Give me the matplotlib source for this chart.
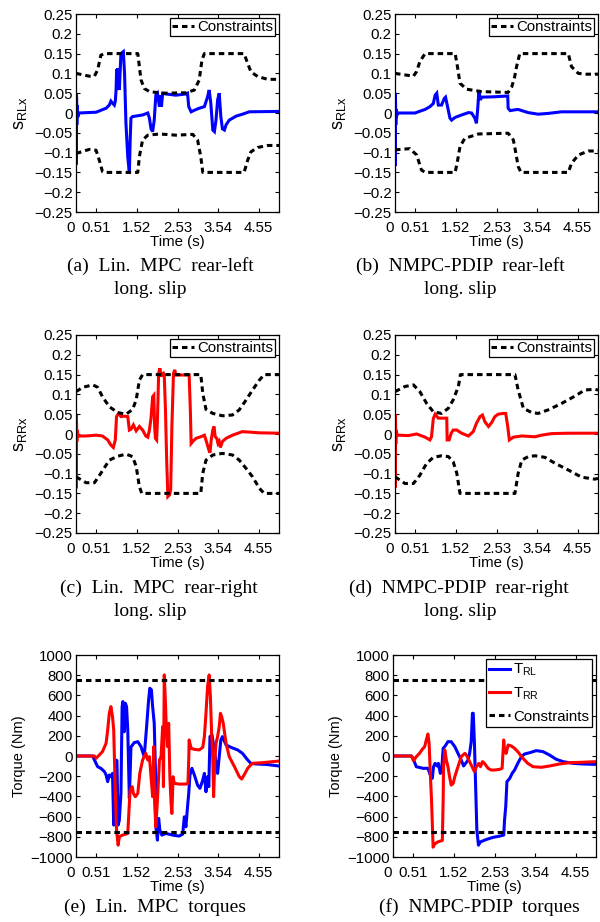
import matplotlib
matplotlib.use("Agg")
import matplotlib.pyplot as plt
import matplotlib.transforms as mtransforms
import numpy as np

plt.rcParams['font.family'] = ['Liberation Sans', 'DejaVu Sans']
plt.rcParams['mathtext.fontset'] = 'custom'
plt.rcParams['mathtext.rm'] = 'Liberation Sans'

# ---------------- data ----------------
xticks = [0, 0.51, 1.52, 2.53, 3.54, 4.55]
xticklabels = ['0', '0.51', '1.52', '2.53', '3.54', '4.55']
slip_yticks = [-0.25, -0.2, -0.15, -0.1, -0.05, 0, 0.05, 0.1, 0.15, 0.2, 0.25]
slip_yticklabels = ['\u22120.25', '\u22120.2', '\u22120.15', '\u22120.1', '\u22120.05', '0',
                    '0.05', '0.1', '0.15', '0.2', '0.25']
torque_yticks = [-1000, -800, -600, -400, -200, 0, 200, 400, 600, 800, 1000]
torque_yticklabels = ['\u22121000', '\u2212800', '\u2212600', '\u2212400', '\u2212200', '0',
                      '200', '400', '600', '800', '1000']

# (a) Lin. MPC rear-left slip
t_a = [0, 0.004, 0.008, 0.014, 0.02, 0.03, 0.045, 0.07, 0.5, 0.75, 0.83, 0.87, 0.91, 0.955, 0.98,
       1.0, 1.013, 1.025, 1.038, 1.05, 1.063, 1.08, 1.12, 1.18, 1.21, 1.245, 1.29, 1.33, 1.35,
       1.37, 1.41, 1.66, 1.79, 1.83, 1.87, 1.91, 1.95, 1.99, 2.03, 2.08, 2.10, 2.13, 2.16, 2.24,
       2.49, 2.74, 2.78, 2.81, 2.87, 2.95, 3.07, 3.20, 3.28, 3.32, 3.36, 3.41, 3.45, 3.49, 3.53,
       3.57, 3.61, 3.65, 3.70, 3.74, 3.82, 3.99, 4.15, 4.32, 5.06]
s_a = [0, 0.05, -0.13, 0.04, -0.03, 0.02, -0.01, 0.0, 0.002, 0.012, 0.02, 0.03, 0.025, 0.02, 0.03,
       0.06, 0.11, 0.07, 0.113, 0.07, 0.1, 0.058, 0.15, 0.155, 0.10, -0.026, -0.11, -0.152, -0.07,
       -0.013, -0.009, -0.005, 0.0, -0.013, -0.04, -0.047, -0.018, 0.045, 0.05, 0.016, 0.045, 0.016,
       0.05, 0.048, 0.045, 0.048, 0.05, 0.016, 0.003, 0.007, 0.012, 0.016, 0.041, 0.058, 0.025,
       -0.043, -0.047, -0.018, 0.033, 0.05, -0.009, -0.04, -0.043, -0.03, -0.018, -0.008, -0.003,
       0.003, 0.004]
ub_a_t = [0, 0.33, 0.46, 0.54, 0.62, 0.71, 1.54, 1.58, 1.62, 1.70, 1.83, 2.16, 2.74, 2.95, 3.07,
          3.14, 3.20, 4.19, 4.28, 4.36, 4.53, 4.78, 5.06]
ub_a = [0.100, 0.093, 0.093, 0.109, 0.146, 0.150, 0.150, 0.117, 0.084, 0.062, 0.054, 0.050, 0.051,
        0.058, 0.083, 0.134, 0.150, 0.150, 0.125, 0.104, 0.092, 0.085, 0.085]
lb_a_t = [0, 0.33, 0.50, 0.58, 0.66, 0.71, 1.54, 1.58, 1.66, 1.79, 2.08, 2.49, 2.91, 3.03, 3.11,
          3.16, 4.19, 4.28, 4.36, 4.53, 4.78, 5.06]
lb_a = [-0.102, -0.092, -0.094, -0.119, -0.148, -0.150, -0.150, -0.11, -0.068, -0.056, -0.053,
        -0.056, -0.054, -0.068, -0.11, -0.150, -0.150, -0.119, -0.098, -0.087, -0.082, -0.082]

# (b) NMPC-PDIP rear-left slip
t_b = [0, 0.004, 0.008, 0.013, 0.02, 0.03, 0.05, 0.083, 0.5, 0.58, 0.75, 0.87, 0.955, 1.0, 1.04,
       1.08, 1.16, 1.23, 1.26, 1.31, 1.37, 1.41, 1.50, 1.66, 1.83, 1.91, 1.99, 2.03, 2.06, 2.09,
       2.13, 2.16, 2.49, 2.81, 2.82, 2.87, 2.99, 3.07, 3.16, 3.32, 3.57, 3.82, 4.15, 5.06]
s_b = [0, 0.05, -0.134, 0.03, -0.03, 0.01, -0.005, 0, 0, 0.003, 0.009, 0.016, 0.024, 0.045, 0.05,
       0.02, 0.02, 0.037, 0.04, 0.016, -0.013, -0.018, -0.011, -0.005, 0.001, 0.0, -0.013, -0.026,
       0.008, 0.054, 0.033, 0.04, 0.041, 0.043, 0.012, 0.006, 0.008, 0.009, 0.006, 0.001, -0.003,
       -0.001, 0.003, 0.003]
ub_b_t = [0, 0.46, 0.54, 0.62, 0.75, 1.50, 1.56, 1.62, 1.79, 2.16, 2.82, 2.91, 2.98, 3.03, 3.11,
          4.32, 4.40, 4.57, 4.78, 5.06]
ub_b = [0.100, 0.093, 0.105, 0.13, 0.150, 0.150, 0.115, 0.075, 0.060, 0.054, 0.052, 0.066, 0.09,
        0.117, 0.150, 0.150, 0.117, 0.100, 0.098, 0.098]
lb_b_t = [0, 0.37, 0.54, 0.66, 0.75, 1.50, 1.56, 1.62, 1.74, 2.08, 2.82, 2.95, 3.01, 3.07, 3.14,
          4.32, 4.40, 4.57, 4.82, 5.06]
lb_b = [-0.093, -0.09, -0.106, -0.144, -0.150, -0.150, -0.12, -0.085, -0.064, -0.053, -0.051,
        -0.068, -0.10, -0.135, -0.150, -0.150, -0.127, -0.106, -0.096, -0.096]

# (c) Lin. MPC rear-right slip
t_c = [0, 0.004, 0.008, 0.013, 0.02, 0.03, 0.05, 0.083, 0.25, 0.50, 0.66, 0.79, 0.87, 0.93, 0.98,
       1.01, 1.06, 1.12, 1.20, 1.29, 1.33, 1.37, 1.43, 1.50, 1.58, 1.66, 1.74, 1.79, 1.83, 1.87,
       1.91, 1.94, 1.96, 1.98, 2.01, 2.03, 2.06, 2.09, 2.13, 2.14, 2.18, 2.20, 2.23, 2.26, 2.29,
       2.33, 2.36, 2.39, 2.43, 2.46, 2.49, 2.82, 2.85, 2.87, 2.91, 2.99, 3.11, 3.20, 3.26, 3.31,
       3.34, 3.37, 3.41, 3.44, 3.47, 3.51, 3.54, 3.57, 3.60, 3.65, 3.74, 3.90, 4.15, 4.57, 5.06]
s_c = [0, 0.048, -0.137, 0.03, -0.02, 0.01, -0.005, -0.005, -0.005, -0.003, -0.005, -0.015,
       -0.028, -0.034, -0.015, 0.044, 0.052, 0.044, 0.045, 0.044, 0.010, 0.012, 0.023, 0.008,
       0.019, 0.010, -0.005, -0.008, 0.010, 0.040, 0.094, 0.098, 0.018, -0.011, -0.015, 0.035,
       0.153, 0.166, 0.145, 0.149, 0.153, 0.147, 0.061, -0.066, -0.158, -0.154, -0.141, 0.019,
       0.153, 0.162, 0.149, 0.149, 0.061, -0.024, -0.019, -0.011, -0.007, -0.003, -0.022, -0.040,
       -0.047, -0.015, 0.010, 0.019, -0.007, -0.011, -0.024, -0.019, -0.034, -0.019, -0.011,
       -0.003, 0.006, 0.003, 0.002]
ub_c_t = [0, 0.17, 0.42, 0.54, 0.66, 0.83, 1.04, 1.25, 1.41, 1.50, 1.58, 1.66, 3.11, 3.16, 3.24,
          3.41, 3.65, 3.90, 4.07, 4.24, 4.40, 4.57, 4.69, 5.06]
ub_c = [0.107, 0.118, 0.124, 0.118, 0.094, 0.069, 0.054, 0.050, 0.062, 0.086, 0.136, 0.150, 0.150,
        0.103, 0.062, 0.052, 0.046, 0.048, 0.061, 0.086, 0.111, 0.136, 0.150, 0.150]
lb_c_t = [0, 0.25, 0.46, 0.62, 0.83, 1.04, 1.25, 1.41, 1.50, 1.58, 1.64, 3.11, 3.16, 3.24, 3.41,
          3.65, 3.90, 4.07, 4.24, 4.40, 4.57, 4.69, 5.06]
lb_c = [-0.108, -0.123, -0.123, -0.099, -0.066, -0.056, -0.051, -0.057, -0.082, -0.133, -0.150,
        -0.150, -0.099, -0.066, -0.053, -0.049, -0.053, -0.066, -0.087, -0.108, -0.137, -0.150,
        -0.150]

# (d) NMPC-PDIP rear-right slip
t_d = [0, 0.004, 0.008, 0.013, 0.02, 0.03, 0.05, 0.083, 0.33, 0.54, 0.62, 0.75, 0.87, 0.91, 0.955,
       1.0, 1.08, 1.29, 1.30, 1.35, 1.40, 1.45, 1.54, 1.66, 1.83, 1.95, 2.03, 2.12, 2.18, 2.24,
       2.33, 2.41, 2.49, 2.57, 2.70, 2.76, 2.81, 2.85, 2.95, 3.16, 3.49, 3.65, 3.90, 4.32, 5.06]
s_d = [0, 0.05, -0.135, 0.03, -0.025, 0.01, -0.003, -0.003, -0.004, 0.0, -0.003, -0.008, -0.015,
       -0.007, 0.039, 0.05, 0.04, 0.04, -0.015, -0.015, 0.002, 0.010, 0.010, 0.002, -0.005, 0.006,
       0.027, 0.044, 0.048, 0.031, 0.019, 0.029, 0.044, 0.05, 0.052, 0.052, 0.019, -0.015, -0.008,
       -0.005, -0.007, -0.003, 0.001, 0.002, 0.002]
ub_d_t = [0, 0.25, 0.46, 0.62, 0.79, 0.955, 1.16, 1.33, 1.45, 1.58, 1.63, 2.99, 3.07, 3.20, 3.41,
          3.57, 3.82, 4.15, 4.49, 4.73, 4.98, 5.06]
ub_d = [0.107, 0.120, 0.124, 0.107, 0.077, 0.056, 0.052, 0.065, 0.086, 0.12, 0.150, 0.150, 0.111,
        0.065, 0.054, 0.052, 0.061, 0.077, 0.096, 0.111, 0.113, 0.111]
lb_d_t = [0, 0.25, 0.46, 0.62, 0.79, 0.955, 1.16, 1.33, 1.45, 1.54, 1.62, 2.99, 3.07, 3.16, 3.32,
          3.49, 3.74, 3.99, 4.32, 4.65, 4.98, 5.06]
lb_d = [-0.108, -0.125, -0.125, -0.104, -0.074, -0.059, -0.055, -0.057, -0.070, -0.099, -0.150,
        -0.150, -0.099, -0.066, -0.057, -0.055, -0.059, -0.074, -0.091, -0.109, -0.114, -0.112]

# (e) Lin. MPC torques
t_e_rl = [0, 0.415, 0.46, 0.54, 0.62, 0.71, 0.75, 0.79, 0.83, 0.87, 0.91, 0.94, 0.96, 1.00, 1.02,
          1.05, 1.08, 1.12, 1.15, 1.17, 1.20, 1.23, 1.26, 1.29, 1.33, 1.37, 1.45, 1.54, 1.62, 1.70,
          1.76, 1.81, 1.84, 1.88, 1.91, 1.95, 1.98, 1.99, 2.03, 2.06, 2.09, 2.14, 2.24, 2.41, 2.57,
          2.66, 2.70, 2.74, 2.78, 2.81, 2.84, 2.89, 2.95, 3.03, 3.09, 3.16, 3.20, 3.24, 3.28, 3.31,
          3.34, 3.39, 3.45, 3.49, 3.53, 3.57, 3.61, 3.65, 3.74, 3.86, 4.03, 4.15, 4.28, 4.36, 4.49,
          4.73, 5.06]
T_e_rl = [0, 0, -40, -106, -122, -155, -188, -254, -188, -205, -172, -684, -436, -40, -46, -684,
          -635, -370, 489, 539, 240, 522, 489, 258, -420, 89, 132, 142, 93, -7, 290, 555, 671, 655,
          489, 324, -140, -701, -833, -618, -734, -783, -767, -783, -793, -774, -602, -701, -502,
          -370, -188, -122, -188, -288, -320, -238, -172, -354, -205, -304, 192, 208, 59, -73, -172,
          -7, 159, 192, 109, 86, 60, 26, -40, -73, -79, -83, -99]
t_e_rr = [0, 0.46, 0.50, 0.58, 0.66, 0.75, 0.79, 0.83, 0.87, 0.91, 0.94, 0.98, 1.01, 1.05, 1.08,
          1.16, 1.29, 1.33, 1.35, 1.40, 1.43, 1.48, 1.54, 1.59, 1.66, 1.74, 1.79, 1.83, 1.87, 1.91,
          1.94, 1.96, 1.99, 2.03, 2.08, 2.12, 2.16, 2.18, 2.20, 2.23, 2.25, 2.28, 2.31, 2.34, 2.37,
          2.39, 2.42, 2.45, 2.57, 2.74, 2.79, 2.81, 2.82, 2.87, 2.95, 3.07, 3.16, 3.20, 3.24, 3.28,
          3.32, 3.35, 3.38, 3.41, 3.43, 3.46, 3.49, 3.53, 3.57, 3.60, 3.63, 3.67, 3.74, 3.82, 3.95,
          4.07, 4.13, 4.19, 4.28, 4.39, 4.65, 4.90, 5.06]
T_e_rr = [0, 0, -23, 10, 43, 126, 258, 423, 489, 390, 258, -370, -734, -883, -800, -783, -767,
          -469, -337, -304, -370, -403, -370, -172, -40, 26, -40, -7, -205, -403, 93, -469, -701,
          -436, -40, -7, 291, -304, 803, 522, 291, 93, 324, -205, -469, -569, -205, -271, -278,
          -278, -271, -40, 159, 76, 66, 60, 86, 192, 423, 688, 803, 588, 225, -40, -403, -40, 126,
          192, 291, 423, 390, 324, 126, -7, -106, -205, -228, -188, -122, -73, -66, -56, -50]

# (f) NMPC-PDIP torques
t_f_rl = [0, 0.46, 0.50, 0.58, 0.75, 0.87, 0.93, 0.98, 1.01, 1.05, 1.10, 1.13, 1.18, 1.22, 1.25,
          1.29, 1.37, 1.45, 1.54, 1.62, 1.70, 1.76, 1.81, 1.87, 1.91, 1.95, 1.98, 2.00, 2.03, 2.06,
          2.09, 2.13, 2.18, 2.33, 2.49, 2.66, 2.76, 2.78, 2.81, 2.84, 2.91, 2.97, 3.03, 3.11, 3.20,
          3.28, 3.41, 3.57, 3.74, 3.90, 4.07, 4.24, 4.49, 4.73, 5.06]
T_f_rl = [0, 0, -23, -106, -122, -122, -188, -221, -106, -73, -99, -73, -172, -106, 76, 93, 142,
          142, 93, 26, -40, -99, -73, -40, 26, 142, 423, 423, 126, -304, -734, -883, -850, -826,
          -806, -793, -783, -635, -502, -254, -221, -172, -139, -73, -7, 20, 33, 53, 43, 10, -33,
          -56, -73, -79, -83]
t_f_rr = [0, 0.46, 0.51, 0.58, 0.66, 0.73, 0.79, 0.83, 0.87, 0.90, 0.93, 0.96, 1.00, 1.04, 1.12,
          1.23, 1.25, 1.26, 1.29, 1.33, 1.37, 1.41, 1.45, 1.50, 1.54, 1.62, 1.70, 1.79, 1.83, 1.89,
          1.99, 2.03, 2.08, 2.14, 2.18, 2.23, 2.28, 2.37, 2.45, 2.53, 2.66, 2.72, 2.76, 2.78, 2.82,
          2.87, 2.95, 3.03, 3.11, 3.24, 3.36, 3.49, 3.70, 3.90, 4.15, 4.40, 4.65, 5.06]
T_f_rr = [0, 0, -46, -7, 26, 66, 93, 159, 218, 126, -172, -436, -903, -870, -850, -836, -436,
          -106, 60, -40, -106, -205, -288, -271, -205, -106, -7, 26, 10, -40, -122, -155, -106,
          -73, -106, -56, -73, -122, -139, -139, -132, -122, 159, 60, 26, 109, 99, 76, 43, -23,
          -73, -106, -112, -99, -79, -66, -63, -56]
torque_limit = 750

captions = {
    'a': ['(a)  Lin.  MPC  rear-left', 'long. slip'],
    'b': ['(b)  NMPC-PDIP  rear-left', 'long. slip'],
    'c': ['(c)  Lin.  MPC  rear-right', 'long. slip'],
    'd': ['(d)  NMPC-PDIP  rear-right', 'long. slip'],
    'e': ['(e)  Lin.  MPC  torques'],
    'f': ['(f)  NMPC-PDIP  torques'],
}

# ---------------- figure ----------------
W, H = 600, 922
fig = plt.figure(figsize=(W / 100, H / 100), dpi=100)

def ax_at(l, t, r, b):
    return fig.add_axes([l / W, 1 - b / H, (r - l) / W, (b - t) / H])

BLUE = '#0000ff'
RED = '#ff0000'
LW = 2.2
DOT = (0, (1.8, 1.3))
FS = 10.8

def style(ax, yticks, yticklabels, ylim, ylabel, ylfs, ylpad):
    ax.set_xlim(0, 5.06)
    ax.set_ylim(*ylim)
    ax.set_xticks(xticks)
    ax.set_xticklabels(xticklabels, fontsize=FS)
    ax.set_yticks(yticks)
    ax.set_yticklabels(yticklabels, fontsize=FS)
    ax.tick_params(direction='in', top=True, right=True, length=3, width=0.8)
    ax.tick_params(axis='x', pad=6.5)
    ax.tick_params(axis='y', pad=2.5)
    for sp in ax.spines.values():
        sp.set_linewidth(0.9)
    ax.set_xlabel('Time (s)', fontsize=FS, labelpad=0.3)
    ax.set_ylabel(ylabel, fontsize=ylfs, labelpad=ylpad)
    # nudge the "0" time label slightly left, as in the original
    lab0 = ax.get_xticklabels()[0]
    lab0.set_transform(lab0.get_transform() +
                       mtransforms.ScaledTranslation(-5 / 100, 0, fig.dpi_scale_trans))

def slip_panel(ax, t, s, color, ubt, ub, lbt, lb, ylabel):
    ax.plot(t, s, color=color, lw=LW, solid_joinstyle='miter')
    c, = ax.plot(ubt, ub, color='k', lw=LW, linestyle=DOT, label='Constraints')
    ax.plot(lbt, lb, color='k', lw=LW, linestyle=DOT)
    style(ax, slip_yticks, slip_yticklabels, (-0.25, 0.25), ylabel, 13, 4)
    leg = ax.legend(handles=[c], loc='upper right', fontsize=FS, fancybox=False,
                    framealpha=1, edgecolor='k', borderpad=0.15, handlelength=1.45,
                    handletextpad=0.2, borderaxespad=0.25)
    leg.get_frame().set_linewidth(0.9)

ax_a = ax_at(76, 14, 279, 212)
slip_panel(ax_a, t_a, s_a, BLUE, ub_a_t, ub_a, lb_a_t, lb_a, r'$\mathregular{s_{RLx}}$')
ax_b = ax_at(395, 14, 598, 212)
slip_panel(ax_b, t_b, s_b, BLUE, ub_b_t, ub_b, lb_b_t, lb_b, r'$\mathregular{s_{RLx}}$')
ax_c = ax_at(76, 335, 279, 533)
slip_panel(ax_c, t_c, s_c, RED, ub_c_t, ub_c, lb_c_t, lb_c, r'$\mathregular{s_{RRx}}$')
ax_d = ax_at(395, 335, 598, 533)
slip_panel(ax_d, t_d, s_d, RED, ub_d_t, ub_d, lb_d_t, lb_d, r'$\mathregular{s_{RRx}}$')

def torque_panel(ax, trl, Trl, trr, Trr, legend):
    l1, = ax.plot(trl, Trl, color=BLUE, lw=LW, label=r'$\mathregular{T_{RL}}$')
    l2, = ax.plot(trr, Trr, color=RED, lw=LW, label=r'$\mathregular{T_{RR}}$')
    c = ax.axhline(torque_limit, color='k', lw=LW, linestyle=DOT, label='Constraints')
    ax.axhline(-torque_limit, color='k', lw=LW, linestyle=DOT)
    style(ax, torque_yticks, torque_yticklabels, (-1000, 1000), 'Torque (Nm)', 10.5, 3)
    if legend:
        leg = ax.legend(handles=[l1, l2, c], loc='upper right', fontsize=FS, fancybox=False,
                        framealpha=1, edgecolor='k', borderpad=0.2, handlelength=1.45,
                        handletextpad=0.2, borderaxespad=0.25, labelspacing=0.5)
        leg.get_frame().set_linewidth(0.9)

ax_e = ax_at(76, 655, 279, 857)
torque_panel(ax_e, t_e_rl, T_e_rl, t_e_rr, T_e_rr, False)
ax_f = ax_at(393, 655, 596, 857)
torque_panel(ax_f, t_f_rl, T_f_rl, t_f_rr, T_f_rr, True)

# captions
CAP = dict(ha='center', va='center', family=['Liberation Serif', 'DejaVu Serif'], fontsize=14)
def caption(lines, xs, ys):
    for txt, x, y in zip(lines, xs, ys):
        fig.text(x / W, 1 - y / H, txt, **CAP)

caption(captions['a'], [160, 150], [266, 290])
caption(captions['b'], [460, 460], [266, 290])
caption(captions['c'], [159, 150], [588, 612])
caption(captions['d'], [459, 460], [588, 612])
caption(captions['e'], [155], [907])
caption(captions['f'], [479], [907])

fig.savefig('out.png', dpi=100)
